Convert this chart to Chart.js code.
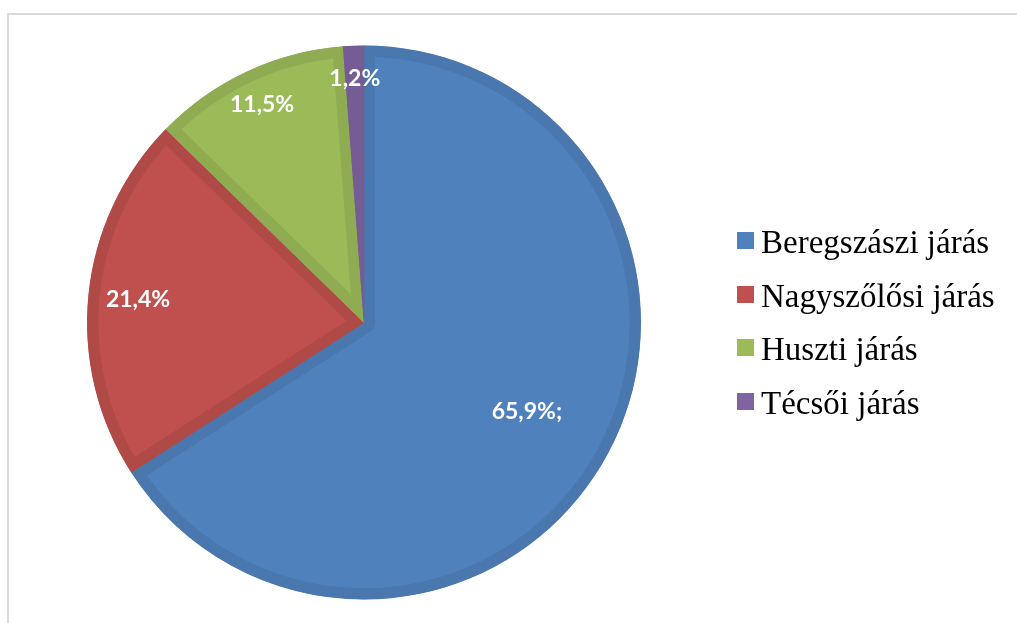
<!DOCTYPE html>
<html>
<head>
<meta charset="utf-8">
<script src="https://cdn.jsdelivr.net/npm/chart.js@4.4.1/dist/chart.umd.min.js"></script>
<style>
    html, body { margin: 0; padding: 0; background: #fff; }
    #wrap { position: relative; width: 1017px; height: 623px; overflow: hidden; }
    #frame {
        position: absolute; left: 7px; top: 13px; right: -5px; bottom: -5px;
        border: 2px solid #d9d9d9;
    }
    #pieCanvas { position: absolute; left: 0; top: 0; }
    #legend { position: absolute; left: 737px; top: 0; font-family: "Liberation Serif", "Times New Roman", serif; font-size: 33px; color: #000; }
    .legend-item { position: absolute; left: 0; height: 54px; line-height: 54px; white-space: nowrap; }
    .legend-box { position: absolute; left: 0; top: 17px; width: 17px; height: 17px; }
    .legend-text { position: absolute; left: 24px; top: 0; }
</style>
</head>
<body>
<div id="wrap">
    <div id="frame"></div>
    <canvas id="pieCanvas" width="1017" height="623"></canvas>
    <div id="legend"></div>
</div>
<script>
// Data
const districts = ['Beregszászi járás', 'Nagyszőlősi járás', 'Huszti járás', 'Técsői járás'];
const shares = [65.9, 21.4, 11.5, 1.2];
const labelSuffix = [';', '', '', ''];

// Styling
const fillColors = ['#4f81bd', '#c0504d', '#9bbb59', '#8064a2'];
const edgeColors = ['#4977ae', '#b04a47', '#8fac52', '#765c95'];
const labelRadius = [0.67, 0.82, 0.87, 0.88];

// --- Percentage labels inside slices ---
const sliceLabels = {
    id: 'sliceLabels',
    afterDatasetsDraw(chart) {
        const ctx = chart.ctx;
        const arcs = chart.getDatasetMeta(0).data;
        ctx.save();
        ctx.font = 'bold 23px Lato, "Open Sans", sans-serif';
        ctx.fillStyle = '#ffffff';
        ctx.textAlign = 'center';
        ctx.textBaseline = 'middle';
        arcs.forEach((arc, i) => {
            const p = arc.getProps(['x', 'y', 'startAngle', 'endAngle', 'outerRadius'], true);
            const mid = (p.startAngle + p.endAngle) / 2;
            const r = p.outerRadius * labelRadius[i];
            const text = shares[i].toFixed(1).replace('.', ',') + '%' + labelSuffix[i];
            ctx.fillText(text, p.x + Math.cos(mid) * r, p.y + Math.sin(mid) * r);
        });
        ctx.restore();
    }
};

const ctx = document.getElementById('pieCanvas').getContext('2d');
new Chart(ctx, {
    type: 'pie',
    data: {
        labels: districts,
        datasets: [{
            data: shares,
            backgroundColor: fillColors,
            borderColor: edgeColors,
            borderWidth: 11,
            borderAlign: 'inner'
        }]
    },
    options: {
        responsive: false,
        animation: false,
        layout: { padding: { left: 87, right: 376, top: 45, bottom: 23 } },
        plugins: {
            legend: { display: false },
            tooltip: { enabled: false }
        }
    },
    plugins: [sliceLabels]
});

// --- Legend ---
const baselines = [253, 307, 360, 414];
const legendEl = document.getElementById('legend');
districts.forEach((name, i) => {
    const item = document.createElement('div');
    item.className = 'legend-item';
    item.style.top = (baselines[i] - 38) + 'px';
    const box = document.createElement('div');
    box.className = 'legend-box';
    box.style.background = fillColors[i];
    const txt = document.createElement('span');
    txt.className = 'legend-text';
    txt.textContent = name;
    item.appendChild(box);
    item.appendChild(txt);
    legendEl.appendChild(item);
});
</script>
</body>
</html>
